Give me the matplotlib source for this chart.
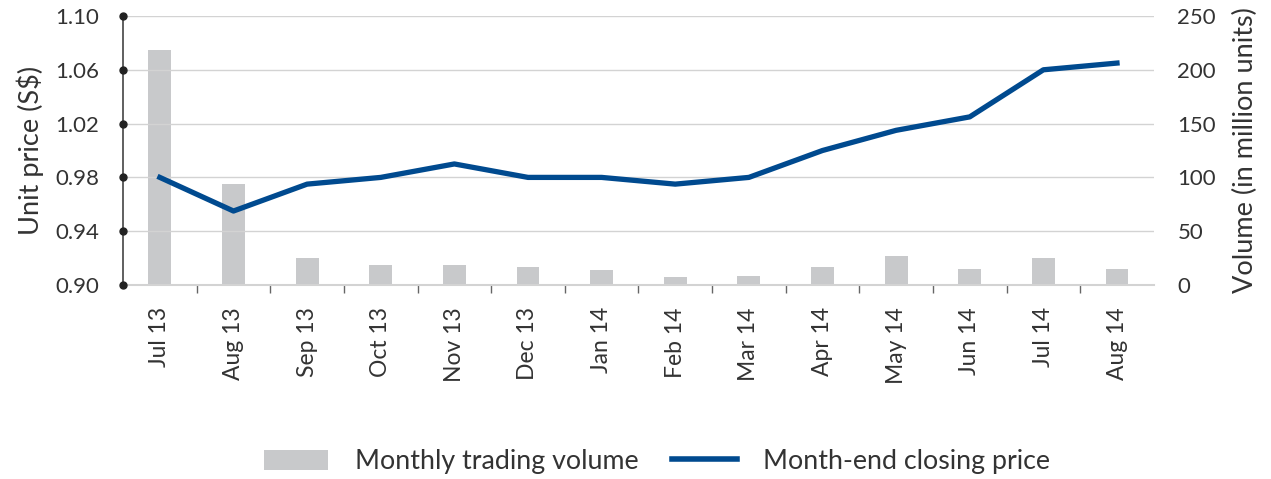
import numpy as np
import matplotlib.pyplot as plt
from matplotlib.patches import Patch
from matplotlib.lines import Line2D

plt.rcParams['font.family'] = ['Lato', 'DejaVu Sans']

months = ['Jul 13', 'Aug 13', 'Sep 13', 'Oct 13', 'Nov 13', 'Dec 13', 'Jan 14',
          'Feb 14', 'Mar 14', 'Apr 14', 'May 14', 'Jun 14', 'Jul 14', 'Aug 14']
volume = [218, 94, 25, 19, 19, 17, 14, 7, 8, 17, 27, 15, 25, 15]
price = [0.98, 0.955, 0.975, 0.98, 0.99, 0.98, 0.98, 0.975, 0.98, 1.00,
         1.015, 1.025, 1.06, 1.065]
price_ticks = [0.90, 0.94, 0.98, 1.02, 1.06, 1.10]
volume_ticks = [0, 50, 100, 150, 200, 250]

text_col = '#333333'
bar_col = '#c8c9cb'
line_col = '#004a8f'
grid_col = '#d3d3d3'

fig = plt.figure(figsize=(12.71, 4.79), dpi=100)
ax = fig.add_axes([0.0968, 0.405, 0.811, 0.5616])
ax2 = ax.twinx()

x = np.arange(len(months))

# volume bars on the right axis, behind the price line
ax2.bar(x, volume, width=0.31, color=bar_col, zorder=1)
ax2.set_ylim(0, 250)
ax2.set_yticks(volume_ticks)
ax2.set_ylabel('Volume (in million units)', fontsize=19.5, color=text_col, labelpad=12)
ax2.tick_params(axis='y', length=0, labelsize=16, labelcolor=text_col, pad=17)
for s in ax2.spines.values():
    s.set_visible(False)

ax.set_zorder(ax2.get_zorder() + 1)
ax.patch.set_visible(False)
ax.plot(x, price, color=line_col, linewidth=3.8, zorder=3)
ax.set_ylim(0.90, 1.10)
ax.set_xlim(-0.5, len(months) - 0.5)
ax.set_yticks(price_ticks)
ax.set_yticklabels(['%.2f' % v for v in price_ticks])
ax.grid(axis='y', color=grid_col, linewidth=1)
ax.set_axisbelow(True)
ax.set_ylabel('Unit price (S$)', fontsize=19.5, color=text_col, labelpad=8)
ax.tick_params(axis='y', length=0, labelsize=16, labelcolor=text_col, pad=17)

# dots on the left spine
ax.plot(np.full(len(price_ticks), -0.5), price_ticks, 'o', color='#222222',
        markersize=5, clip_on=False, zorder=5)

ax.set_xticks(x)
ax.set_xticklabels(months, rotation=90, fontsize=16.5, color=text_col)
ax.tick_params(axis='x', length=0, pad=16)
ax.set_xticks(np.arange(0.5, len(months) - 0.5), minor=True)
ax.tick_params(axis='x', which='minor', length=6, color='#666666', width=1)

for s in ['top', 'right']:
    ax.spines[s].set_visible(False)
ax.spines['left'].set_color('#444444')
ax.spines['left'].set_linewidth(1.2)
ax.spines['bottom'].set_color(grid_col)
ax.spines['bottom'].set_linewidth(1.5)

handles = [Patch(facecolor=bar_col, edgecolor='none'),
           Line2D([0], [0], color=line_col, linewidth=4)]
fig.legend(handles, ['Monthly trading volume', 'Month-end closing price'],
           loc='center', bbox_to_anchor=(0.517, 0.036), ncol=2, frameon=False,
           fontsize=19.3, labelcolor=text_col, handlelength=2.4, handleheight=0.8,
           columnspacing=1.25, handletextpad=1.0)

fig.savefig('out.png', dpi=100)
